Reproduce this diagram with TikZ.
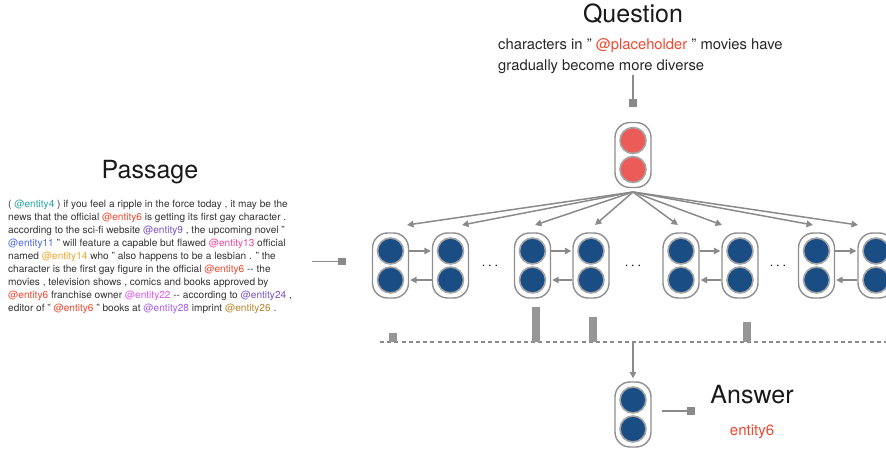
\documentclass[tikz,border=0pt]{standalone}
\usepackage{fontspec}
\setmainfont{TeX Gyre Heros}
\usetikzlibrary{arrows.meta}
\definecolor{lgray}{HTML}{8A8A8A}
\definecolor{cgray}{HTML}{8E8E8E}
\definecolor{dblue}{HTML}{1A4D84}
\definecolor{qred}{HTML}{EB5C58}
\definecolor{tgray}{HTML}{333333}
\definecolor{ered}{HTML}{F0472F}
\definecolor{eteal}{HTML}{2AA6A0}
\definecolor{epurple}{HTML}{7B52C6}
\definecolor{eblue}{HTML}{4A6AF0}
\definecolor{epink}{HTML}{F0449E}
\definecolor{eorange}{HTML}{F4A62A}
\definecolor{emagenta}{HTML}{DD55EE}
\definecolor{eviolet}{HTML}{A85CEE}
\definecolor{ebrown}{HTML}{B8862C}
\tikzset{
  capsule/.style={draw=cgray, line width=1.4pt, rounded corners=15pt, minimum width=36pt, minimum height=65pt, inner sep=0pt},
  dotc/.style={circle, draw=cgray!80, line width=1.6pt, minimum size=26pt, inner sep=0pt},
  arr/.style={draw=lgray, line width=1.5pt, -{Triangle[length=6.5pt,width=6.5pt]}},
  plainline/.style={draw=lgray, line width=1.6pt},
  sq/.style={fill=lgray, minimum size=7.5pt, inner sep=0pt},
  bar/.style={fill=lgray!90, minimum width=8pt, inner sep=0pt, anchor=south},
  title/.style={font=\fontsize{25}{30}\selectfont, text=black!90},
  dots/.style={font=\fontsize{14}{16}\selectfont, text=black, anchor=base, inner sep=0pt}
}
\newcommand\mycap[4]{%
  \node[capsule] (#1) at (#2,#3) {};
  \node[dotc, fill=#4] (#1a) at (#2,#3-14.5) {};
  \node[dotc, fill=#4] (#1b) at (#2,#3+14.5) {};}
\begin{document}
\begin{tikzpicture}[x=1pt,y=-1pt]
\useasboundingbox (0,0) rectangle (886,454);
% Question
\node[title] (qtitle) at (633,14) {Question};
\node[anchor=north west, inner sep=0pt, align=left, font=\fontsize{14.8}{21}\selectfont, text=black!85] (qtext) at (498,38)
  {characters in " \textcolor{ered}{@placeholder} " movies have\\ gradually become more diverse};
\coordinate (qtop) at (633,75);
\node[sq] (qsq) at (633,103) {};
\draw[plainline] (qtop) -- (qsq.north);
\mycap{q}{633}{155}{qred}
% Passage
\node[title] (ptitle) at (150,172) {Passage};
\node[anchor=north west, inner sep=0pt, align=left, font=\fontsize{10.1}{13}\selectfont, text=tgray] (ptext) at (8,200)
{( \textcolor{eteal}{@entity4} ) if you feel a ripple in the force today , it may be the\\
news that the official \textcolor{ered}{@entity6} is getting its first gay character .\\
according to the sci-fi website \textcolor{epurple}{@entity9} , the upcoming novel "\\
\textcolor{eblue}{@entity11} " will feature a capable but flawed \textcolor{epink}{@entity13} official\\
named \textcolor{eorange}{@entity14} who " also happens to be a lesbian . " the\\
character is the first gay figure in the official \textcolor{ered}{@entity6} -{}- the\\
movies , television shows , comics and books approved by\\
\textcolor{ered}{@entity6} franchise owner \textcolor{emagenta}{@entity22} -{}- according to \textcolor{epurple}{@entity24} ,\\
editor of " \textcolor{ered}{@entity6} " books at \textcolor{eviolet}{@entity28} imprint \textcolor{ebrown}{@entity26} .};
\coordinate (pline) at (312,261.5);
\node[sq] (psq) at (342,261.5) {};
\draw[plainline] (pline) -- (psq.west);
% encoder
\mycap{p1}{390.5}{265.5}{dblue}
\mycap{p2}{450.5}{265.5}{dblue}
\mycap{p3}{532.5}{265.5}{dblue}
\mycap{p4}{591}{265.5}{dblue}
\mycap{p5}{681}{265.5}{dblue}
\mycap{p6}{740}{265.5}{dblue}
\mycap{p7}{816.5}{265.5}{dblue}
\mycap{p8}{876}{265.5}{dblue}
\foreach \l/\r in {p1/p2,p3/p4,p5/p6,p7/p8}{
  \draw[arr, shorten >=1pt] (\l.east |- \l a) -- (\r.west |- \r a);
  \draw[arr, shorten >=1pt] (\r.west |- \r b) -- (\l.east |- \l b);
}
\node[dots] (d1) at (490,270) {$\cdots$};
\node[dots] (d2) at (633,270) {$\cdots$};
\node[dots] (d3) at (778,270) {$\cdots$};
% fan out
\coordinate (apex) at (633,192);
\coordinate (t1) at (407,225);
\coordinate (t2) at (462,225);
\coordinate (t3) at (535,225);
\coordinate (t4) at (595,225);
\coordinate (t5) at (678,225);
\coordinate (t6) at (722,225);
\coordinate (t7) at (813,225);
\coordinate (t8) at (858,225);
\foreach \t in {t1,t2,t3,t4,t5,t6,t7,t8}{\draw[arr] (apex) -- (\t);}
% attention
\coordinate (dl) at (380,342);
\coordinate (dr) at (886,342);
\draw[lgray, line width=1.3pt, dash pattern=on 4pt off 3.2pt] (dl) -- (dr);
\node[bar, minimum height=9pt] (b1) at (393,342) {};
\node[bar, minimum height=35pt] (b2) at (536,342) {};
\node[bar, minimum height=25pt] (b3) at (593,342) {};
\node[bar, minimum height=20pt] (b4) at (747,342) {};
% answer
\coordinate (adown) at (633,343);
\mycap{a}{633}{414.5}{dblue}
\draw[arr, shorten >=3pt] (adown) -- (a.north);
\coordinate (aline) at (662,411);
\node[sq] (asq) at (691,411) {};
\draw[plainline] (aline) -- (asq.west);
\node[title] (atitle) at (752,395) {Answer};
\node[font=\fontsize{15}{17}\selectfont, text=ered] (ans) at (752,432) {entity6};
\end{tikzpicture}
\end{document}
